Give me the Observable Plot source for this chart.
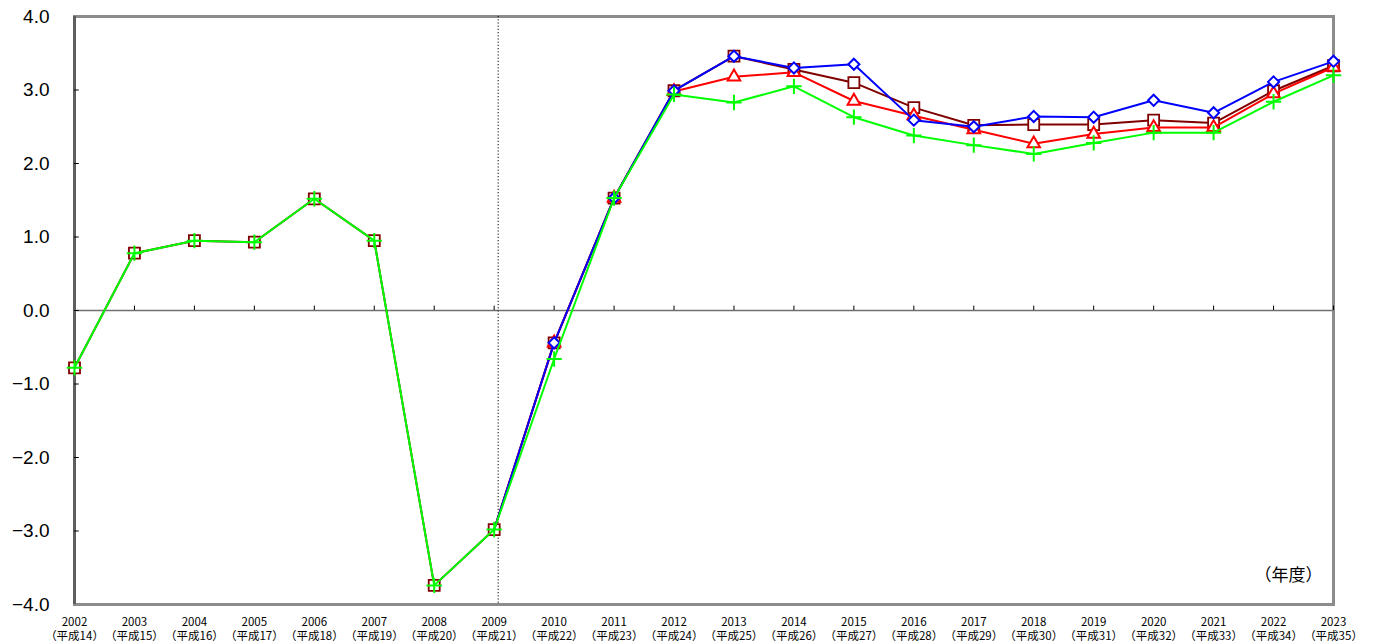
<!DOCTYPE html>
<html>
<head>
<meta charset="utf-8">
<script src="https://cdn.jsdelivr.net/npm/d3@7"></script>
<script src="https://cdn.jsdelivr.net/npm/@observablehq/plot@0.6"></script>
<style>
  html, body { margin: 0; padding: 0; background: #fff; }
</style>
</head>
<body>
<div id="chart"></div>
<script>
// Fiscal years on the horizontal axis, with the matching Heisei-era label
const years = [2002, 2003, 2004, 2005, 2006, 2007, 2008, 2009, 2010, 2011, 2012,
               2013, 2014, 2015, 2016, 2017, 2018, 2019, 2020, 2021, 2022, 2023];
const eraLabels = ["平成14", "平成15", "平成16", "平成17", "平成18", "平成19", "平成20",
                   "平成21", "平成22", "平成23", "平成24", "平成25", "平成26", "平成27",
                   "平成28", "平成29", "平成30", "平成31", "平成32", "平成33", "平成34", "平成35"];

// Growth rates (%) for each scenario
const squareSeries = [-0.78, 0.78, 0.95, 0.93, 1.52, 0.95, -3.74, -2.98, -0.44, 1.53, 2.99,
                      3.46, 3.28, 3.10, 2.76, 2.52, 2.53, 2.53, 2.59, 2.55, 2.99, 3.33];
const triangleSeries = [null, null, null, null, null, null, null, -2.98, -0.44, 1.53, 2.98,
                        3.18, 3.24, 2.85, 2.65, 2.46, 2.27, 2.40, 2.49, 2.49, 2.95, 3.31];
const diamondSeries = [null, null, null, null, null, null, null, -2.98, -0.44, 1.53, 2.99,
                       3.46, 3.30, 3.35, 2.59, 2.50, 2.64, 2.63, 2.86, 2.69, 3.11, 3.39];
const plusSeries = [-0.78, 0.78, 0.95, 0.93, 1.52, 0.95, -3.74, -2.98, -0.66, 1.53, 2.94,
                    2.83, 3.05, 2.63, 2.38, 2.25, 2.13, 2.28, 2.42, 2.42, 2.84, 3.20];

const yTicks = [-4, -3, -2, -1, 0, 1, 2, 3, 4];
const unitLabel = "（年度）";
const forecastStart = 2009;
const markersFrom = 2010;

const rows = (values) =>
  years.map((year, i) => ({year, value: values[i]})).filter((d) => d.value != null);

const squares = rows(squareSeries);
const triangles = rows(triangleSeries);
const diamonds = rows(diamondSeries);
const pluses = rows(plusSeries);

const sans = "'Liberation Sans', Arial, sans-serif";
const gothic = "'Noto Sans CJK JP', sans-serif";
const x0 = years[0];

const chart = Plot.plot({
  width: 1373,
  height: 644,
  marginLeft: 74,
  marginRight: 40,
  marginTop: 16,
  marginBottom: 40,
  style: {fontFamily: sans, background: "#fff", color: "#000"},
  x: {domain: [years[0], years[years.length - 1]], axis: null},
  y: {domain: [yTicks[0], yTicks[yTicks.length - 1]]},
  marks: [
    // plot-area border (darker on the left)
    Plot.frame({stroke: "#8c8c8c", strokeWidth: 3}),
    Plot.ruleX([x0], {stroke: "#5e5e5e", strokeWidth: 3}),

    // zero line with small year ticks
    Plot.ruleY([0], {stroke: "#707070", strokeWidth: 1.6}),
    Plot.ruleX(years.slice(1), {y1: 0, y2: 0.06, stroke: "#000", strokeWidth: 1}),

    // inward ticks on the value axis
    Plot.ruleY(yTicks.slice(1, -1), {x1: x0, x2: x0 + 0.08, stroke: "#000", strokeWidth: 1}),

    // dotted divider where the projection begins
    Plot.ruleX([forecastStart], {dx: 4, stroke: "#000", strokeWidth: 1, strokeDasharray: "1.2,2"}),

    // value axis labels
    Plot.axisY({
      ticks: yTicks,
      tickFormat: d3.format(".1f"),
      tickSize: 0,
      tickPadding: 25,
      fontSize: 19,
      label: null
    }),

    // year labels with era names
    Plot.text(years, {
      x: (d) => d,
      frameAnchor: "bottom",
      lineAnchor: "top",
      dy: 12,
      text: (d, i) => `${d}\n（${eraLabels[i]}）`,
      fontSize: 11.5,
      lineHeight: 1.2,
      fontFamily: gothic,
      fill: "#000"
    }),

    // unit label
    Plot.text([unitLabel], {
      frameAnchor: "bottom-right",
      textAnchor: "end",
      dx: -11,
      dy: -24,
      fontSize: 17,
      fontFamily: gothic,
      fill: "#000"
    }),

    // maroon squares
    Plot.line(squares, {x: "year", y: "value", stroke: "#800000", strokeWidth: 2}),
    Plot.dot(squares, {x: "year", y: "value", symbol: "square2", r: 7, stroke: "#800000", strokeWidth: 1.8, fill: "#fff"}),

    // red triangles
    Plot.line(triangles, {x: "year", y: "value", stroke: "#ff0000", strokeWidth: 2}),
    Plot.dot(triangles.filter((d) => d.year >= markersFrom), {x: "year", y: "value", symbol: "triangle2", r: 6, stroke: "#ff0000", strokeWidth: 2, fill: "#fff"}),

    // blue diamonds
    Plot.line(diamonds, {x: "year", y: "value", stroke: "#0000ff", strokeWidth: 2}),
    Plot.dot(diamonds.filter((d) => d.year >= markersFrom), {x: "year", y: "value", symbol: "diamond2", r: 5, stroke: "#0000ff", strokeWidth: 2, fill: "#fff"}),

    // green crosses
    Plot.line(pluses, {x: "year", y: "value", stroke: "#00ff00", strokeWidth: 2}),
    Plot.dot(pluses, {x: "year", y: "value", symbol: "plus", r: 5, stroke: "#00ff00", strokeWidth: 2})
  ]
});

document.getElementById("chart").appendChild(chart);
</script>
</body>
</html>
